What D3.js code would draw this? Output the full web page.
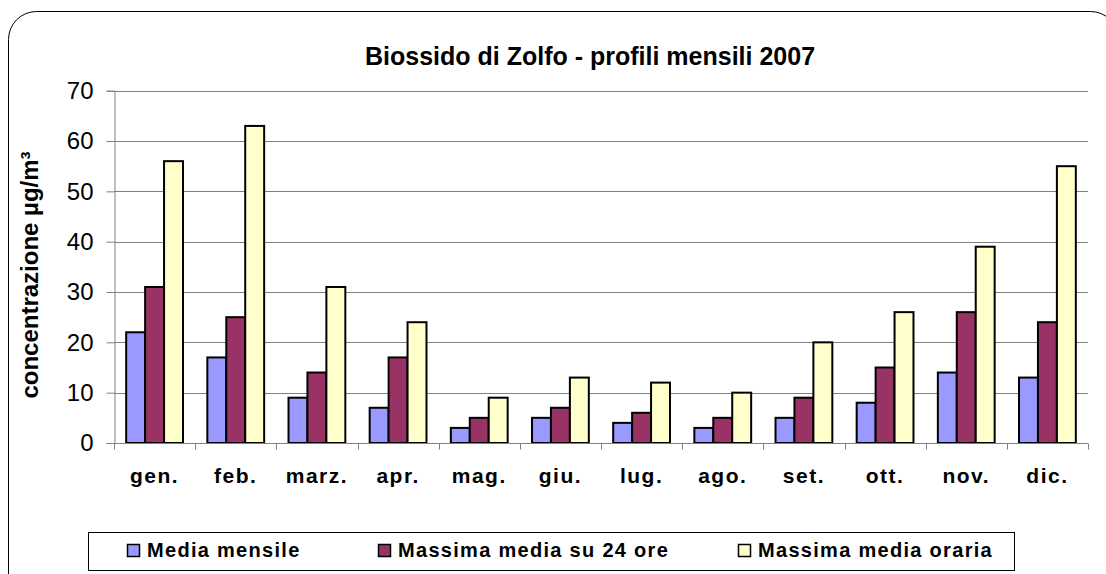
<!DOCTYPE html>
<html>
<head>
<meta charset="utf-8">
<script src="https://cdn.jsdelivr.net/npm/d3@7"></script>
<style>
  body { margin: 0; background: #fff; }
  svg { display: block; font-family: Arial, "Liberation Sans", sans-serif; }
</style>
</head>
<body>
<svg id="chart" width="1106" height="574"></svg>
<script>
"use strict";

// months on the x axis
const months = ['gen.', 'feb.', 'marz.', 'apr.', 'mag.', 'giu.', 'lug.', 'ago.', 'set.', 'ott.', 'nov.', 'dic.'];

// series values (µg/m³)
const mediaMensile = [22, 17, 9, 7, 3, 5, 4, 3, 5, 8, 14, 13];
const massima24 = [31, 25, 14, 17, 5, 7, 6, 5, 9, 15, 26, 24];
const massimaOraria = [56, 63, 31, 24, 9, 13, 12, 10, 20, 26, 39, 55];

const seriesNames = ['Media mensile', 'Massima media su 24 ore', 'Massima media oraria'];
const seriesColors = ['#9999ff', '#993366', '#ffffcc'];
const yTicks = [0, 10, 20, 30, 40, 50, 60, 70];

(function () {
  let svg = d3.select('#chart');

  // outer rounded frame, runs off the right and bottom edges
  svg.append('rect')
    .attr('x', 8.5).attr('y', 11.5)
    .attr('width', 1110).attr('height', 600)
    .attr('rx', 28).attr('ry', 28)
    .style('fill', 'none')
    .style('stroke', '#000')
    .style('stroke-width', 1);

  let left = 114, right = 1088, top = 90.7, bottom = 443;

  let x = d3.scaleBand().domain(months).range([left, right]).paddingInner(0.3).paddingOuter(0.15);
  let xs = d3.scaleBand().domain(d3.range(3)).range([0, x.bandwidth()]);
  let y = d3.scaleLinear().domain([0, 70]).range([bottom, top]);

  // gridlines
  svg.append('g').selectAll('line').data(yTicks.slice(1)).enter().append('line')
    .attr('x1', left).attr('x2', right)
    .attr('y1', d => Math.round(y(d)) + 0.5).attr('y2', d => Math.round(y(d)) + 0.5)
    .style('stroke', '#808080');

  // bars
  let data = [mediaMensile, massima24, massimaOraria];
  let groups = svg.append('g').selectAll('g').data(data).enter().append('g')
    .style('fill', (d, i) => seriesColors[i]);
  groups.selectAll('rect').data((d, i) => d.map((v, j) => ({ s: i, m: months[j], v: v }))).enter()
    .append('rect')
    .attr('x', d => x(d.m) + xs(d.s))
    .attr('y', d => y(d.v))
    .attr('width', xs.bandwidth())
    .attr('height', d => y(0) - y(d.v))
    .style('stroke', '#000')
    .style('stroke-width', 2);

  // y axis
  let yAxis = d3.axisLeft(y).tickValues(yTicks).tickSize(8).tickPadding(13);
  let gy = svg.append('g').attr('transform', 'translate(' + (left + 0.5) + ',0)').call(yAxis);
  gy.selectAll('text').style('font-size', '24px').style('fill', '#000');
  gy.selectAll('line, path').style('stroke', '#808080');

  // x axis, ticks at band edges
  let gx = svg.append('g').attr('transform', 'translate(0,' + (bottom + 0.5) + ')');
  gx.append('line').attr('x1', left).attr('x2', right).style('stroke', '#808080');
  let step = (right - left) / months.length;
  gx.selectAll('line.tick').data(d3.range(months.length + 1)).enter().append('line')
    .attr('class', 'tick')
    .attr('x1', i => Math.round(left + i * step) + 0.5).attr('x2', i => Math.round(left + i * step) + 0.5)
    .attr('y1', 0).attr('y2', 6)
    .style('stroke', '#808080');
  gx.selectAll('text').data(months).enter().append('text')
    .attr('x', (d, i) => left + (i + 0.5) * step)
    .attr('y', 39)
    .attr('text-anchor', 'middle')
    .style('font-size', '21px')
    .style('font-weight', 'bold')
    .style('letter-spacing', '1.5px')
    .text(d => d);

  // title
  svg.append('text')
    .attr('x', 590).attr('y', 65)
    .attr('text-anchor', 'middle')
    .style('font-size', '25px')
    .style('font-weight', 'bold')
    .text('Biossido di Zolfo - profili mensili 2007');

  // y label
  svg.append('text')
    .attr('transform', 'translate(38,275) rotate(-90)')
    .attr('text-anchor', 'middle')
    .style('font-size', '24px')
    .style('font-weight', 'bold')
    .text('concentrazione µg/m³');

  // legend
  let legend = svg.append('g');
  legend.append('rect')
    .attr('x', 88.5).attr('y', 532.5).attr('width', 926).attr('height', 38)
    .style('fill', '#fff').style('stroke', '#000');
  let legendX = [127, 378, 738];
  let items = legend.selectAll('g').data(seriesNames).enter().append('g')
    .attr('transform', (d, i) => 'translate(' + legendX[i] + ',550)');
  items.append('rect')
    .attr('x', 0.5).attr('y', -5.5).attr('width', 12).attr('height', 12)
    .style('fill', (d, i) => seriesColors[i])
    .style('stroke', '#000').style('stroke-width', 1.5);
  items.append('text')
    .attr('x', 20).attr('y', 7)
    .style('font-size', '20px')
    .style('font-weight', 'bold')
    .style('letter-spacing', '1.3px')
    .text(d => d);
})();
</script>
</body>
</html>
